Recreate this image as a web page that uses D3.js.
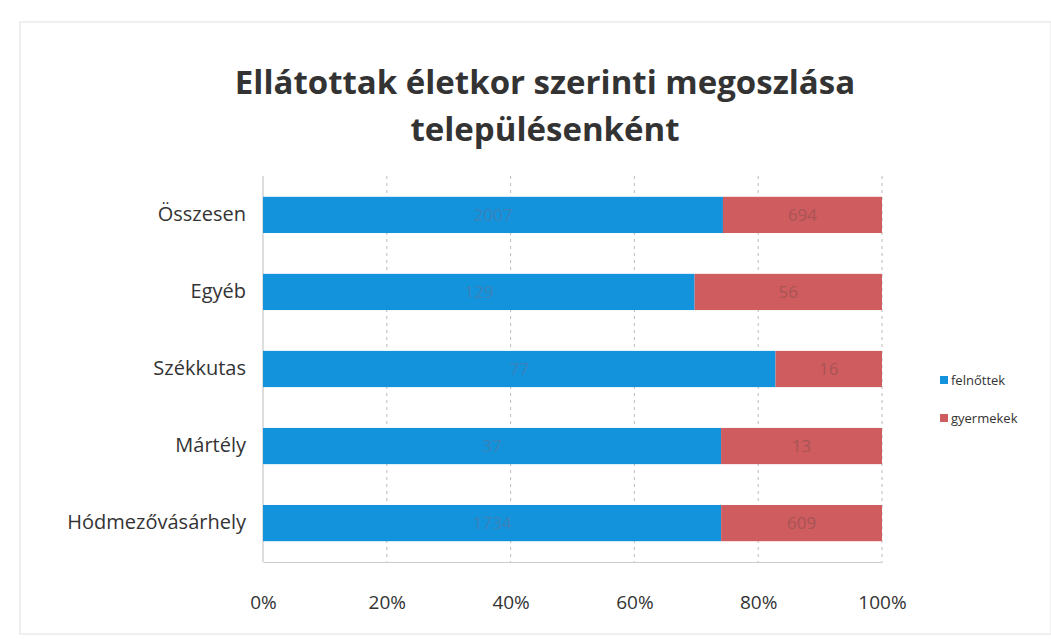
<!DOCTYPE html>
<html><head><meta charset="utf-8">
<script src="https://cdn.jsdelivr.net/npm/d3@7"></script>
<style>body{margin:0;background:#fff;} svg{display:block;}</style>
</head><body>
<svg id="c" width="1051" height="639"></svg>
<script>
const categories = ["Összesen", "Egyéb", "Székkutas", "Mártély", "Hódmezővásárhely"];
const felnottek = [2007, 129, 77, 37, 1734];
const gyermekek = [694, 56, 16, 13, 609];
const seriesNames = ["felnőttek", "gyermekek"];
const tickLabels = ["0%", "20%", "40%", "60%", "80%", "100%"];

const svg = d3.select("#c");
const W = 1051, H = 639;
const font = "'Open Sans', 'Noto Sans', sans-serif";

svg.append("rect").attr("x", 20).attr("y", 22).attr("width", W - 20).attr("height", 612)
  .attr("fill", "#fff").attr("stroke", "#e2e2e2").attr("stroke-width", 1);

svg.append("text").attr("x", 545).attr("y", 94).attr("text-anchor", "middle")
  .attr("font-family", font).attr("font-weight", "bold").attr("font-size", 33).attr("fill", "#333")
  .text("Ellátottak életkor szerinti megoszlása");
svg.append("text").attr("x", 545).attr("y", 141).attr("text-anchor", "middle")
  .attr("font-family", font).attr("font-weight", "bold").attr("font-size", 33).attr("fill", "#333")
  .text("településenként");

const x = d3.scaleLinear().domain([0, 1]).range([263, 882]);
const y = d3.scaleBand().domain(categories).range([176, 562]).paddingInner(0.53).paddingOuter(0.27);

// gridlines
svg.append("g").selectAll("line").data(d3.range(0, 1.01, 0.2)).join("line")
  .attr("x1", d => x(d)).attr("x2", d => x(d)).attr("y1", 176).attr("y2", 562)
  .attr("stroke", "#bbb").attr("stroke-width", 1).attr("stroke-dasharray", d => d === 0 ? null : "3,4");

const data = categories.map((c, i) => {
  const t = felnottek[i] + gyermekek[i];
  return {cat: c, a: felnottek[i], b: gyermekek[i], pa: felnottek[i] / t};
});

const g = svg.append("g");
g.selectAll("rect.a").data(data).join("rect").attr("class", "a")
  .attr("x", x(0)).attr("y", d => y(d.cat)).attr("width", d => x(d.pa) - x(0)).attr("height", y.bandwidth())
  .attr("fill", "#1493dd");
g.selectAll("rect.b").data(data).join("rect").attr("class", "b")
  .attr("x", d => x(d.pa)).attr("y", d => y(d.cat)).attr("width", d => x(1) - x(d.pa)).attr("height", y.bandwidth())
  .attr("fill", "#cf5c5e");

g.selectAll("text.la").data(data).join("text").attr("class", "la")
  .attr("x", d => x(d.pa / 2)).attr("y", d => y(d.cat) + y.bandwidth() / 2 + 6)
  .attr("text-anchor", "middle").attr("font-family", font).attr("font-size", 17).attr("fill", "#3b82b8")
  .text(d => d.a);
g.selectAll("text.lb").data(data).join("text").attr("class", "lb")
  .attr("x", d => x((1 + d.pa) / 2)).attr("y", d => y(d.cat) + y.bandwidth() / 2 + 6)
  .attr("text-anchor", "middle").attr("font-family", font).attr("font-size", 17).attr("fill", "#a85456")
  .text(d => d.b);

// y axis
const ya = svg.append("g").attr("transform", `translate(${x(0)},0)`)
  .call(d3.axisLeft(y).tickSize(0).tickPadding(17));
ya.select(".domain").remove();
ya.selectAll("text").attr("font-family", font).attr("font-size", 20).attr("fill", "#333");

// x axis labels
const xa = svg.append("g").attr("transform", `translate(0,562)`)
  .call(d3.axisBottom(x).tickValues(d3.range(0, 1.01, 0.2)).tickFormat((d, i) => tickLabels[i]).tickSize(0).tickPadding(34));
xa.select(".domain").attr("stroke", "#ccc");
xa.selectAll("text").attr("font-family", font).attr("font-size", 19).attr("fill", "#333");

// legend
const colors = ["#1493dd", "#cf5c5e"];
const lg = svg.append("g").selectAll("g").data(seriesNames).join("g")
  .attr("transform", (d, i) => `translate(940,${381 + i * 38})`);
lg.append("rect").attr("x", 0).attr("y", -5).attr("width", 8).attr("height", 8).attr("fill", (d, i) => colors[i]);
lg.append("text").attr("x", 11).attr("y", 4).attr("font-family", font).attr("font-size", 13).attr("fill", "#333").text(d => d);
</script>
</body></html>
